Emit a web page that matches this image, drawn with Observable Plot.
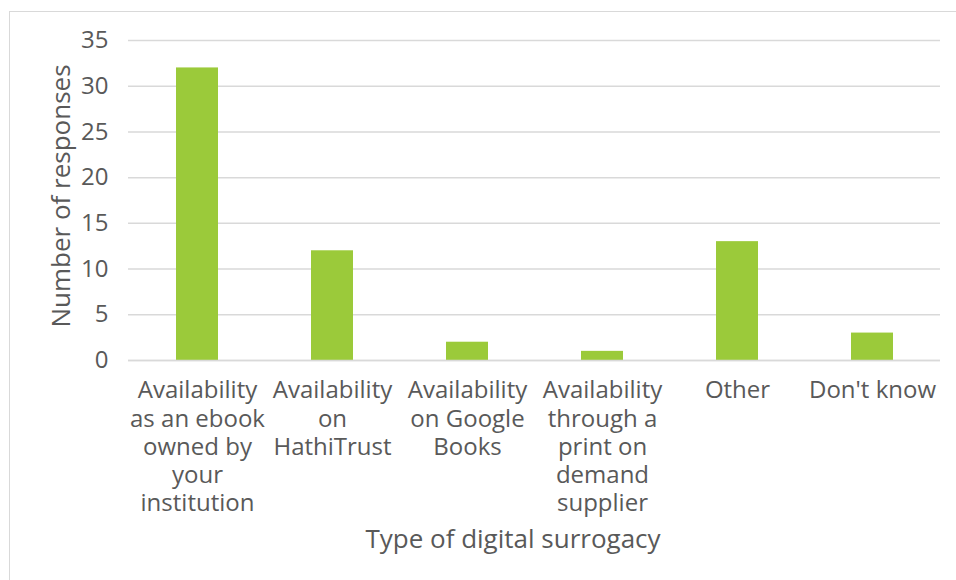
<!DOCTYPE html>
<html>
<head>
<meta charset="utf-8">
<script src="https://cdn.jsdelivr.net/npm/d3@7"></script>
<script src="https://cdn.jsdelivr.net/npm/@observablehq/plot@0.6"></script>
<style>
  html, body { margin: 0; padding: 0; background: #fff; }
  #wrap { position: relative; width: 956px; height: 580px; overflow: hidden; font-family: "Open Sans", sans-serif; color: #595959; }
  #frame { position: absolute; left: 9px; top: 11px; width: 1000px; height: 700px; border-top: 1.5px solid #d9d9d9; border-left: 1.5px solid #d9d9d9; }
  #chart { position: absolute; left: 0; top: 0; }
  #xtitle { position: absolute; left: 263px; width: 500px; top: 538px; transform: translateY(-50%); text-align: center; font-size: 26px; line-height: 1; }
  #ytitle { position: absolute; left: 60px; top: 196px; transform: translate(-50%, -50%) rotate(-90deg); white-space: nowrap; font-size: 26px; line-height: 1; }
</style>
</head>
<body>
<div id="wrap">
  <div id="frame"></div>
  <div id="chart"></div>
  <div id="xtitle">Type of digital surrogacy</div>
  <div id="ytitle">Number of responses</div>
</div>
<script>
const categories = [
  "Availability as an ebook owned by your institution",
  "Availability on HathiTrust",
  "Availability on Google Books",
  "Availability through a print on demand supplier",
  "Other",
  "Don't know"
];
const tickLabels = [
  "Availability\nas an ebook\nowned by\nyour\ninstitution",
  "Availability\non\nHathiTrust",
  "Availability\non Google\nBooks",
  "Availability\nthrough a\nprint on\ndemand\nsupplier",
  "Other",
  "Don't know"
];
const responses = [32, 12, 2, 1, 13, 3];
const yTicks = [0, 5, 10, 15, 20, 25, 30, 35];

const data = categories.map((c, i) => ({category: c, value: responses[i]}));
const labelOf = new Map(categories.map((c, i) => [c, tickLabels[i]]));

const chart = Plot.plot({
  width: 956,
  height: 580,
  marginLeft: 128,
  marginRight: 16,
  marginTop: 40,
  marginBottom: 220,
  style: {fontFamily: "'Open Sans', sans-serif", fontSize: "24px", color: "#595959", background: "transparent"},
  x: {domain: categories, paddingInner: 0.69, paddingOuter: 0.345, label: null},
  y: {domain: [0, 35], label: null},
  marks: [
    Plot.gridY(yTicks, {stroke: "#d9d9d9", strokeOpacity: 1, strokeWidth: 1.5}),
    Plot.barY(data, {x: "category", y: "value", fill: "#9bca3a"}),
    Plot.ruleY([0], {stroke: "#d9d9d9", strokeWidth: 1.5}),
    Plot.axisY(yTicks, {tickSize: 0, tickPadding: 20, fontSize: 24, fill: "#595959", label: null}),
    Plot.axisX({tickSize: 0, tickPadding: 18, fontSize: 24, lineHeight: 1.17, fill: "#595959", label: null, tickFormat: d => labelOf.get(d), textAnchor: "middle"})
  ]
});
document.getElementById("chart").appendChild(chart);
</script>
</body>
</html>
